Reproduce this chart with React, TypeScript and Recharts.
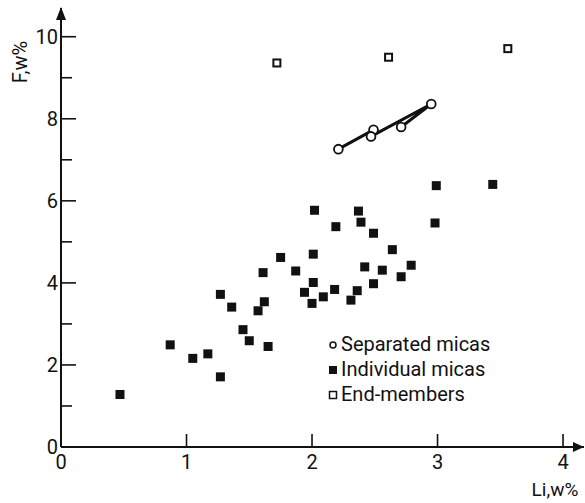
import { Legend, ReferenceDot, Scatter, ScatterChart, XAxis, YAxis } from 'recharts';

interface Point {
  li: number;
  f: number;
}

// Li and F, weight %
const individualMicas: Point[] = [
  { li: 0.47, f: 1.28 },
  { li: 0.87, f: 2.49 },
  { li: 1.05, f: 2.16 },
  { li: 1.17, f: 2.27 },
  { li: 1.27, f: 1.71 },
  { li: 1.27, f: 3.72 },
  { li: 1.36, f: 3.41 },
  { li: 1.45, f: 2.86 },
  { li: 1.5, f: 2.59 },
  { li: 1.57, f: 3.32 },
  { li: 1.62, f: 3.54 },
  { li: 1.61, f: 4.25 },
  { li: 1.65, f: 2.45 },
  { li: 1.75, f: 4.62 },
  { li: 1.87, f: 4.29 },
  { li: 1.94, f: 3.77 },
  { li: 2.0, f: 3.5 },
  { li: 2.01, f: 4.01 },
  { li: 2.01, f: 4.7 },
  { li: 2.02, f: 5.77 },
  { li: 2.09, f: 3.66 },
  { li: 2.18, f: 3.84 },
  { li: 2.19, f: 5.37 },
  { li: 2.31, f: 3.58 },
  { li: 2.36, f: 3.81 },
  { li: 2.37, f: 5.75 },
  { li: 2.39, f: 5.48 },
  { li: 2.42, f: 4.39 },
  { li: 2.49, f: 5.21 },
  { li: 2.49, f: 3.98 },
  { li: 2.56, f: 4.31 },
  { li: 2.64, f: 4.81 },
  { li: 2.71, f: 4.15 },
  { li: 2.79, f: 4.43 },
  { li: 2.98, f: 5.46 },
  { li: 2.99, f: 6.37 },
  { li: 3.44, f: 6.4 },
];

// joined in this order
const separatedMicas: Point[] = [
  { li: 2.21, f: 7.26 },
  { li: 2.49, f: 7.73 },
  { li: 2.47, f: 7.57 },
  { li: 2.95, f: 8.36 },
  { li: 2.71, f: 7.8 },
];

const endMembers: Point[] = [
  { li: 1.72, f: 9.36 },
  { li: 2.61, f: 9.5 },
  { li: 3.56, f: 9.71 },
];

const xTicks = [0, 1, 2, 3, 4];
const yTicks = [0, 1, 2, 3, 4, 5, 6, 7, 8, 9, 10];
const xMax = 4.167;
const yMax = 10.7;

const FONT = 'Roboto, sans-serif';
const INK = '#111';

const FilledSquare = (props: any) => {
  const { cx, cy } = props;
  return <rect x={cx - 4.5} y={cy - 4.5} width={9} height={9} fill={INK} />;
};

const OpenSquare = (props: any) => {
  const { cx, cy } = props;
  return <rect x={cx - 3.5} y={cy - 3.5} width={7} height={7} fill="#fff" stroke={INK} strokeWidth={2} />;
};

const OpenCircle = (props: any) => {
  const { cx, cy } = props;
  return <circle cx={cx} cy={cy} r={4.4} fill="#fff" stroke={INK} strokeWidth={1.8} />;
};

const YTick = (props: any) => {
  const { x, y, payload } = props;
  const major = payload.value % 2 === 0;
  return (
    <g>
      <line x1={x} x2={x + (major ? 15 : 11)} y1={y} y2={y} stroke={INK} strokeWidth={1.6} />
      {major && (
        <text x={x - 3} y={y} dy={7} textAnchor="end" fontSize={20} fontFamily={FONT} fill={INK}>
          {payload.value}
        </text>
      )}
    </g>
  );
};

const XTick = (props: any) => {
  const { x, y, payload } = props;
  return (
    <g>
      {payload.value !== 0 && <line x1={x} x2={x} y1={y} y2={y - 13} stroke={INK} strokeWidth={1.6} />}
      <text x={x} y={y} dy={22} textAnchor="middle" fontSize={20} fontFamily={FONT} fill={INK}>
        {payload.value}
      </text>
    </g>
  );
};

const UpArrow = (props: any) => {
  const { cx, cy } = props;
  return <path d={`M${cx},${cy - 1} L${cx - 5},${cy + 12} L${cx + 5},${cy + 12} Z`} fill={INK} />;
};

const RightArrow = (props: any) => {
  const { cx, cy } = props;
  return <path d={`M${cx},${cy} L${cx - 11},${cy - 5} L${cx - 11},${cy + 5} Z`} fill={INK} />;
};

const legendRows = [
  { name: 'Separated micas', marker: 'circle' },
  { name: 'Individual micas', marker: 'filled' },
  { name: 'End-members', marker: 'open' },
];

function LegendBox() {
  return (
    <div style={{ fontFamily: FONT, fontSize: 20, color: INK, lineHeight: '25px' }}>
      {legendRows.map((r) => (
        <div key={r.name} style={{ display: 'flex', alignItems: 'center', height: 25 }}>
          <svg width={14} height={25} style={{ marginRight: 1 }}>
            {r.marker === 'circle' && <circle cx={7} cy={13} r={3} fill="#fff" stroke={INK} strokeWidth={1.5} />}
            {r.marker === 'filled' && <rect x={3} y={9} width={8} height={8} fill={INK} />}
            {r.marker === 'open' && (
              <rect x={3.5} y={9.5} width={7} height={7} fill="#fff" stroke={INK} strokeWidth={1.5} />
            )}
          </svg>
          <span>{r.name}</span>
        </div>
      ))}
    </div>
  );
}

export default function App() {
  return (
    <div style={{ position: 'absolute', left: 0, top: 0, width: 585, height: 503, background: '#fff' }}>
      <ScatterChart width={585} height={503} margin={{ top: 8, right: 1, bottom: 0, left: 0 }}>
        <XAxis
          type="number"
          dataKey="li"
          domain={[0, xMax]}
          ticks={xTicks}
          allowDataOverflow
          height={56}
          tickSize={0}
          tickMargin={0}
          tick={<XTick />}
          axisLine={{ stroke: INK, strokeWidth: 2 }}
          label={{
            content: () => (
              <text x={555} y={496} textAnchor="middle" fontSize={19} fontFamily={FONT} fill={INK}>
                Li,w%
              </text>
            ),
          }}
        />
        <YAxis
          type="number"
          dataKey="f"
          domain={[0, yMax]}
          ticks={yTicks}
          allowDataOverflow
          width={61}
          tickSize={0}
          tickMargin={0}
          tick={<YTick />}
          axisLine={{ stroke: INK, strokeWidth: 2 }}
          label={{
            content: () => (
              <text
                x={27}
                y={62}
                transform="rotate(-90 27 62)"
                textAnchor="middle"
                fontSize={20}
                fontFamily={FONT}
                fill={INK}
              >
                F,w%
              </text>
            ),
          }}
        />
        <Legend
          layout="vertical"
          align="center"
          verticalAlign="middle"
          wrapperStyle={{ left: 326, top: 332, width: 200 }}
          content={() => <LegendBox />}
        />
        <Scatter
          name="Individual micas"
          data={individualMicas}
          shape={<FilledSquare />}
          isAnimationActive={false}
        />
        <Scatter
          name="Separated micas"
          data={separatedMicas}
          shape={<OpenCircle />}
          line={{ stroke: INK, strokeWidth: 3 }}
          lineType="joint"
          isAnimationActive={false}
        />
        <Scatter name="End-members" data={endMembers} shape={<OpenSquare />} isAnimationActive={false} />
        <ReferenceDot x={0} y={yMax} r={0} ifOverflow="visible" shape={<UpArrow />} />
        <ReferenceDot x={xMax} y={0} r={0} ifOverflow="visible" shape={<RightArrow />} />
      </ScatterChart>
    </div>
  );
}
